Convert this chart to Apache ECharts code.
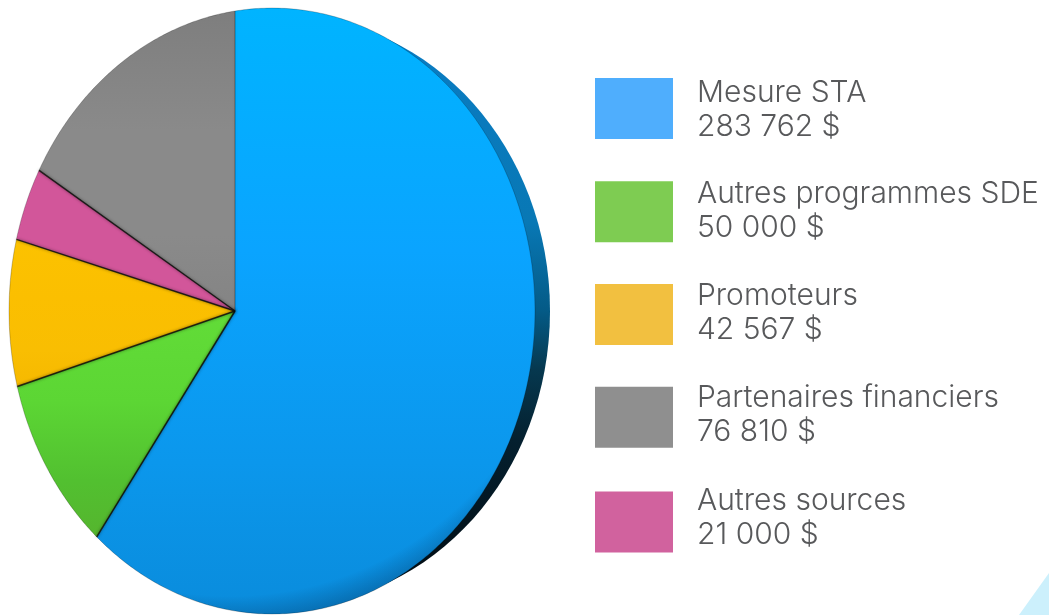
<!DOCTYPE html>
<html>
<head>
<meta charset="utf-8">
<style>
  html, body { margin: 0; padding: 0; background: #fff; }
  #chart { width: 1049px; height: 615px; }
</style>
<script src="https://cdn.jsdelivr.net/npm/echarts@6/dist/echarts.min.js"></script>
</head>
<body>
<div id="chart"></div>
<script>
// legend order
const categories = ['Mesure STA', 'Autres programmes SDE', 'Promoteurs', 'Partenaires financiers', 'Autres sources']
const values = [283762, 50000, 42567, 76810, 21000]
const valueLabels = ['283 762 $', '50 000 $', '42 567 $', '76 810 $', '21 000 $']
const legendColors = ['#4FAEFD', '#7ECC52', '#F2C040', '#8F8F8F', '#D1629E']
// clockwise from 12 o'clock, the pie does not follow the legend order
const sliceOrder = [0, 1, 2, 4, 3]
const sliceColors = {
  0: ['#00B4FF', '#0AA4FF', '#0B97EC', '#0A8CDC'],
  1: ['#62DC38', '#5CD634', '#52C030', '#55B52E'],
  2: ['#FCC200', '#FBBF00', '#F9BE02', '#F6B900'],
  3: ['#7E7E7E', '#8A8A8A', '#8A8A8A', '#848484'],
  4: ['#D2569A', '#D2569A', '#D2569A', '#D2569A']
}

// the picture is a pie tilted in perspective, so a circle is projected onto the page
const apexX = 235
const apexY = 311
const scaleX = 257.8
const scaleY = 300
const tilt = -0.1407

function project (angle) {
  const u = Math.sin(angle)
  const v = -Math.cos(angle)
  const d = 1 + tilt * u
  return [apexX + scaleX * u / d, apexY + scaleY * v / d]
}

function renderSlice (params, api) {
  const start = api.value(0)
  const end = api.value(1)
  const points = [[apexX, apexY]]
  const steps = Math.ceil((end - start) * 90)
  for (let i = 0; i <= steps; i++) {
    points.push(project(start + (end - start) * i / steps))
  }
  const stops = sliceColors[api.value(2)]
  return {
    type: 'polygon',
    shape: { points },
    style: {
      fill: new echarts.graphic.LinearGradient(0, 0, 0, 1, [
        { offset: 0, color: stops[0] },
        { offset: 0.4, color: stops[1] },
        { offset: 0.75, color: stops[2] },
        { offset: 1, color: stops[3] }
      ])
    }
  }
}

// dark groove between two slices
function renderSeam (params, api) {
  const alpha = api.value(1)
  return {
    type: 'polyline',
    shape: { points: [[apexX, apexY], project(api.value(0))] },
    style: {
      fill: 'none',
      stroke: 'rgba(15,15,10,' + alpha + ')',
      lineWidth: 1.5,
      shadowBlur: 3,
      shadowColor: 'rgba(0,0,0,' + alpha * 0.7 + ')'
    }
  }
}

const total = values.reduce((a, b) => a + b, 0)
let running = 0
const seamData = []
const sliceSeries = sliceOrder.map(idx => {
  const start = running / total * Math.PI * 2
  running += values[idx]
  const end = running / total * Math.PI * 2
  // the seam at 12 o'clock is barely visible
  seamData.push([start, start === 0 ? 0.25 : 0.85])
  return {
    type: 'custom',
    name: categories[idx],
    coordinateSystem: 'none',
    silent: true,
    z: 3,
    renderItem: renderSlice,
    itemStyle: { color: legendColors[idx] },
    data: [[start, end, idx]]
  }
})

// the text rows sit a little tighter than the swatches, so each row's lines are
// moved up inside their box by trading height between the two lines
const rowLift = [-1, 0.5, 1.5, 2.5, 4.5]
const legendRich = {}
rowLift.forEach((lift, i) => {
  const token = { fontFamily: 'Inter', fontWeight: 300, fontSize: 30, color: '#58595B' }
  legendRich['a' + i] = Object.assign({ lineHeight: 34 - 2 * lift }, token)
  legendRich['b' + i] = Object.assign({ lineHeight: 34 + 2 * lift }, token)
})

const chart = echarts.init(document.getElementById('chart'))
chart.setOption({
  animation: false,
  legend: {
    left: 595,
    top: 77.5,
    padding: 0,
    orient: 'vertical',
    itemWidth: 78,
    itemHeight: 61,
    itemGap: 37.75,
    selectedMode: false,
    icon: 'rect',
    data: categories.map((name, i) => ({ name, itemStyle: { color: legendColors[i] } })),
    formatter: name => {
      const i = categories.indexOf(name)
      return '{a' + i + '|' + name + '}\n{b' + i + '|' + valueLabels[i] + '}'
    },
    textStyle: {
      padding: [0, 0, 0, 19],
      rich: legendRich
    }
  },
  graphic: [{
    type: 'polygon',
    shape: { points: [[1049, 573], [1019, 615], [1049, 615]] },
    style: { fill: '#CCF0FC' },
    silent: true
  }],
  series: [
    {
      // dark rim on the right hand side
      type: 'custom',
      name: 'rim',
      coordinateSystem: 'none',
      silent: true,
      z: 1,
      renderItem: () => ({
        type: 'ellipse',
        shape: { cx: 287, cy: 311, rx: 263, ry: 294 },
        style: {
          fill: new echarts.graphic.LinearGradient(0, 0, 0, 1, [
            { offset: 0, color: '#0A7CC4' },
            { offset: 0.35, color: '#0878B5' },
            { offset: 0.5, color: '#045A86' },
            { offset: 0.6, color: '#06384F' },
            { offset: 0.72, color: '#04202F' },
            { offset: 1, color: '#02090E' }
          ])
        }
      }),
      data: [[0]]
    }
  ].concat(sliceSeries).concat([
    {
      // darker bevel toward the lower edge
      type: 'custom',
      name: 'bevel',
      coordinateSystem: 'none',
      silent: true,
      z: 4,
      renderItem: () => ({
        type: 'ellipse',
        shape: { cx: 272, cy: 311, rx: 263, ry: 303 },
        style: {
          fill: new echarts.graphic.RadialGradient(230, 260, 400, [
            { offset: 0, color: 'rgba(0,20,50,0)' },
            { offset: 0.84, color: 'rgba(0,20,50,0)' },
            { offset: 0.93, color: 'rgba(0,20,50,0.35)' },
            { offset: 1, color: 'rgba(0,20,50,0.6)' }
          ], true),
          stroke: 'rgba(0,0,0,0.22)',
          lineWidth: 1
        }
      }),
      data: [[0]]
    },
    {
      type: 'custom',
      name: 'seams',
      coordinateSystem: 'none',
      silent: true,
      z: 5,
      renderItem: renderSeam,
      data: seamData
    }
  ])
})
</script>
</body>
</html>
